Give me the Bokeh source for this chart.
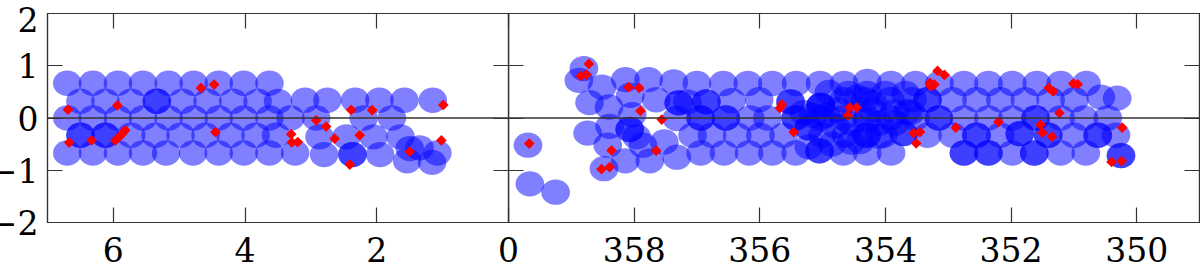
from bokeh.plotting import figure
from bokeh.layouts import row
from bokeh.models import Range1d, LinearAxis, FixedTicker, Span
from bokeh.embed import file_html
from bokeh.resources import INLINE

# ---- left panel (longitude 7..0): pointing ellipses
l_row_a_lon = [6.70, 6.31, 5.93, 5.55, 5.16, 4.78, 4.40, 4.02, 3.63]
l_row_a_lat = [0.665] * 9
l_row_b_lon = [6.50, 6.12, 5.73, 5.34, 5.34, 4.95, 4.57, 4.18, 3.81, 3.50, 3.09, 2.75, 2.33, 1.96, 1.58, 1.15]
l_row_b_lat = [0.32] * 10 + [0.34] * 6
l_row_c_lon = [6.70, 6.31, 5.93, 5.55, 5.16, 4.78, 4.40, 4.02, 3.63, 3.31, 2.92, 2.20, 1.77]
l_row_c_lat = [0.0] * 13
l_row_d_lon = [6.50, 6.50, 6.12, 6.12, 5.73, 5.36, 4.98, 4.60, 4.22, 3.84, 3.53, 2.87, 2.46, 2.05, 1.64]
l_row_d_lat = [-0.33] * 11 + [-0.36] * 4
l_row_e_lon = [6.70, 6.31, 5.93, 5.55, 5.20, 4.79, 4.40, 4.02, 3.63, 3.24, 2.80, 2.37, 2.37, 1.95]
l_row_e_lat = [-0.67] * 10 + [-0.70] * 4
l_end_lon = [1.50, 1.35, 1.08, 1.54, 1.16]
l_end_lat = [-0.585, -0.57, -0.67, -0.82, -0.85]

# ---- right panel (longitude 360..349): pointing ellipses
r_edge_lon = [359.69, 359.66, 359.25, 358.80, 358.88, 358.51, 358.71, 358.40, 358.06, 358.03, 358.39, 358.74,
              358.07, 358.07, 357.86, 357.96, 358.42, 358.48, 358.14, 357.75, 357.52, 357.32, 356.94, 356.57,
              357.07, 356.76, 357.65, 357.29, 357.29, 357.15, 356.85, 356.85, 357.32, 356.94, 356.94, 356.54, 356.54]
r_edge_lat = [-0.52, -1.26, -1.42, 0.946, 0.72, 0.59, 0.295, 0.21, 0.435, 0.065, -0.16, -0.29,
              -0.22, -0.22, -0.52, -0.36, -0.52, -0.97, -0.82, -0.82, -0.46, -0.75, -0.67, -0.67,
              -0.33, -0.33, 0.35, 0.29, 0.29, 0.31, 0.31, 0.31, -0.01, 0.0, 0.0, 0.0, 0.0]
r_top_lon = [358.14, 357.77, 357.37, 357.00, 356.58, 356.19, 355.80, 355.42, 355.04, 354.66, 354.29, 353.91,
             353.52, 353.14, 352.75, 352.36, 351.98, 351.59, 351.21, 350.80]
r_top_lat = [0.735, 0.735, 0.69, 0.66, 0.66, 0.66, 0.66, 0.66, 0.66, 0.66, 0.70, 0.66,
             0.66, 0.66, 0.66, 0.66, 0.66, 0.66, 0.66, 0.66]
r_b_lon = [356.45, 356.01, 355.51, 355.51, 355.03, 355.03, 355.03, 354.67, 354.32, 353.92, 353.57, 353.33, 353.33,
           354.90, 354.59, 354.29, 354.00, 353.68,
           352.93, 352.55, 352.17, 351.78, 351.37, 350.99, 350.57, 350.31]
r_b_lat = [0.33, 0.35, 0.31, 0.31, 0.24, 0.24, 0.24, 0.35, 0.35, 0.35, 0.35, 0.35, 0.35,
           0.49, 0.47, 0.47, 0.47, 0.47,
           0.35, 0.35, 0.35, 0.35, 0.35, 0.35, 0.40, 0.38]
r_c_lon = [356.15, 355.88, 355.43, 355.43, 355.03, 354.67, 354.29, 353.92, 353.52, 353.15, 353.15,
           352.75, 352.36, 351.98, 351.61, 351.61, 351.21, 350.84, 350.46]
r_c_lat = [0.0] * 19
r_d_lon = [356.36, 355.99, 355.62, 355.22, 355.22, 355.00, 354.63, 354.30, 354.30, 354.03, 353.71, 353.71, 353.33,
           352.93, 352.55, 352.55, 352.17, 351.86, 351.86, 351.41, 351.41, 351.00, 350.62, 350.62, 350.33]
r_d_lat = [-0.33, -0.33, -0.33, -0.19, -0.19, -0.33, -0.33, -0.33, -0.33, -0.33, -0.30, -0.30, -0.33,
           -0.33, -0.33, -0.33, -0.33, -0.30, -0.30, -0.33, -0.33, -0.33, -0.33, -0.33, -0.33]
r_e_lon = [356.17, 355.80, 355.43, 355.22, 355.05, 355.05, 354.67, 354.29, 353.91,
           352.75, 352.75, 352.36, 352.36, 351.98, 351.63, 351.63, 351.21, 350.81, 350.25, 350.25]
r_e_lat = [-0.67, -0.67, -0.67, -0.55, -0.63, -0.63, -0.67, -0.67, -0.67,
           -0.67, -0.67, -0.67, -0.67, -0.67, -0.67, -0.67, -0.67, -0.67, -0.72, -0.72]
r_dense_lon = [354.75, 354.20, 353.85, 353.65, 354.95, 355.15, 354.55, 354.30, 354.10, 353.85,
               355.30, 354.80, 353.60, 354.20, 354.45, 354.85, 354.55, 354.40, 354.10]
r_dense_lat = [0.15, 0.15, 0.12, 0.12, 0.05, 0.05, -0.10, -0.05, -0.10, -0.10,
               0.10, -0.15, 0.10, 0.30, 0.40, -0.50, -0.46, -0.45, -0.35]

# ---- red diamonds
l_src_lon = [6.69, 6.67, 6.33, 5.94, 5.97, 5.92, 5.87, 5.82, 4.67, 4.47, 4.45, 3.30, 3.29, 3.20,
             2.92, 2.77, 2.64, 2.26, 2.41, 2.39, 2.07, 1.50, 1.02, 0.99]
l_src_lat = [0.16, -0.47, -0.43, 0.24, -0.43, -0.375, -0.31, -0.235, 0.575, 0.64, -0.27, -0.31, -0.465, -0.46,
             -0.044, -0.165, -0.395, -0.33, -0.89, 0.155, 0.15, -0.645, -0.43, 0.25]
r_src_lon = [359.67, 358.72, 358.85, 358.76, 358.09, 357.92, 357.90, 357.56, 358.36, 357.65, 358.39, 358.52,
             355.65, 355.68, 355.46, 354.57, 354.46, 354.60, 353.55, 353.45, 353.51, 353.17, 353.06, 353.29,
             353.28, 353.22, 352.88, 352.20, 351.23, 351.53, 351.50, 351.35, 351.40, 351.33, 351.01, 350.94,
             350.23, 350.40, 350.24]
r_src_lat = [-0.49, 1.035, 0.805, 0.83, 0.59, 0.575, 0.135, -0.03, -0.62, -0.625, -0.94, -0.98,
             0.26, 0.19, -0.27, 0.20, 0.20, 0.05, -0.29, -0.27, -0.485, 0.90, 0.825, 0.67,
             0.61, 0.64, -0.185, -0.075, 0.095, -0.13, -0.28, -0.355, 0.575, 0.51, 0.66, 0.645,
             -0.185, -0.84, -0.825]

l_ticks = [6, 4, 2, 0]
r_ticks = [358, 356, 354, 352, 350]
r_tick_labels = {358: "358", 356: "356", 354: "354", 352: "352", 350: "350"}
y_ticks = [-2, -1, 0, 1, 2]
# the top label sits a little below its tick in the reference
y_label_pos = [-2, -1, 0, 1, 1.885]
y_labels = {-2: "\u22122", -1: "\u22121", 0: "0", 1: "1", 1.885: "2"}

INK = "#333333"
FONT = "DejaVu Serif"
SIZE = "33px"
OVER = 24
TOP = 21
BOTTOM = 48


def style(a):
    a.axis_line_color = INK
    a.axis_line_width = 1.2
    a.major_tick_line_color = INK
    a.major_tick_line_width = 1.2
    a.major_tick_in = 15
    a.major_tick_out = 0
    a.minor_tick_line_color = None


def mute(a):
    a.major_label_text_color = None
    a.major_label_text_font_size = "1px"
    a.major_label_standoff = 0


def side_axis(p, where, labels):
    if labels:
        a = LinearAxis(ticker=FixedTicker(ticks=y_label_pos, minor_ticks=y_ticks))
        style(a)
        a.major_tick_line_color = None
        a.minor_tick_line_color = INK
        a.minor_tick_line_width = 1.2
        a.minor_tick_in = 15
        a.minor_tick_out = 0
        a.major_label_overrides = y_labels
        a.major_label_standoff = 9
        a.major_label_text_font = FONT
        a.major_label_text_font_size = SIZE
        a.major_label_text_color = "black"
    else:
        a = LinearAxis(ticker=FixedTicker(ticks=y_ticks))
        style(a)
        mute(a)
    p.add_layout(a, where)


def panel(xr, fw, bl, br, ticks, lon, lat, w, s_lon, s_lat, overrides=None):
    p = figure(frame_width=fw, frame_height=209, x_range=xr, y_range=Range1d(-2, 2),
               output_backend="svg", toolbar_location=None, x_axis_location=None, y_axis_location=None,
               min_border_left=bl, min_border_right=br, min_border_top=TOP, min_border_bottom=BOTTOM)
    p.grid.visible = False
    p.outline_line_color = INK
    p.outline_line_width = 1.2
    p.background_fill_color = None
    p.border_fill_color = None
    p.ellipse(lon, lat, width=w, height=0.485, fill_color="#0000ff", fill_alpha=0.5, line_color=None)
    p.scatter(s_lon, s_lat, marker="square", angle=0.7854, size=7.6, fill_color="#ff0000", line_color=None)
    p.add_layout(Span(location=0, dimension="width", line_color=INK, line_width=1.4))
    b = LinearAxis(ticker=FixedTicker(ticks=ticks))
    style(b)
    b.major_label_standoff = 14
    b.major_label_text_font = FONT
    b.major_label_text_font_size = SIZE
    b.major_label_text_color = "black"
    if overrides:
        b.major_label_overrides = overrides
    p.add_layout(b, "below")
    t = LinearAxis(ticker=FixedTicker(ticks=ticks))
    style(t)
    mute(t)
    p.add_layout(t, "above")
    return p


left_lon = l_row_a_lon + l_row_b_lon + l_row_c_lon + l_row_d_lon + l_row_e_lon + l_end_lon
left_lat = l_row_a_lat + l_row_b_lat + l_row_c_lat + l_row_d_lat + l_row_e_lat + l_end_lat
right_lon = r_edge_lon + r_top_lon + r_b_lon + r_c_lon + r_d_lon + r_e_lon + r_dense_lon
right_lat = r_edge_lat + r_top_lat + r_b_lat + r_c_lat + r_d_lat + r_e_lat + r_dense_lat

p1 = panel(Range1d(7, 0), 461, 47, OVER, l_ticks, left_lon, left_lat, 0.433, l_src_lon, l_src_lat)
side_axis(p1, "left", True)
side_axis(p1, "right", False)
p2 = panel(Range1d(360, 349), 691, 0, 1, r_ticks, right_lon, right_lat, 0.457, r_src_lon, r_src_lat, r_tick_labels)
side_axis(p2, "left", False)
side_axis(p2, "right", False)

p1.margin = (-8, 0, 0, -14)
p2.margin = (-8, 0, 0, -OVER)
layout = row(p1, p2)
layout.margin = 0
open("out.html", "w").write(file_html(layout, INLINE))
